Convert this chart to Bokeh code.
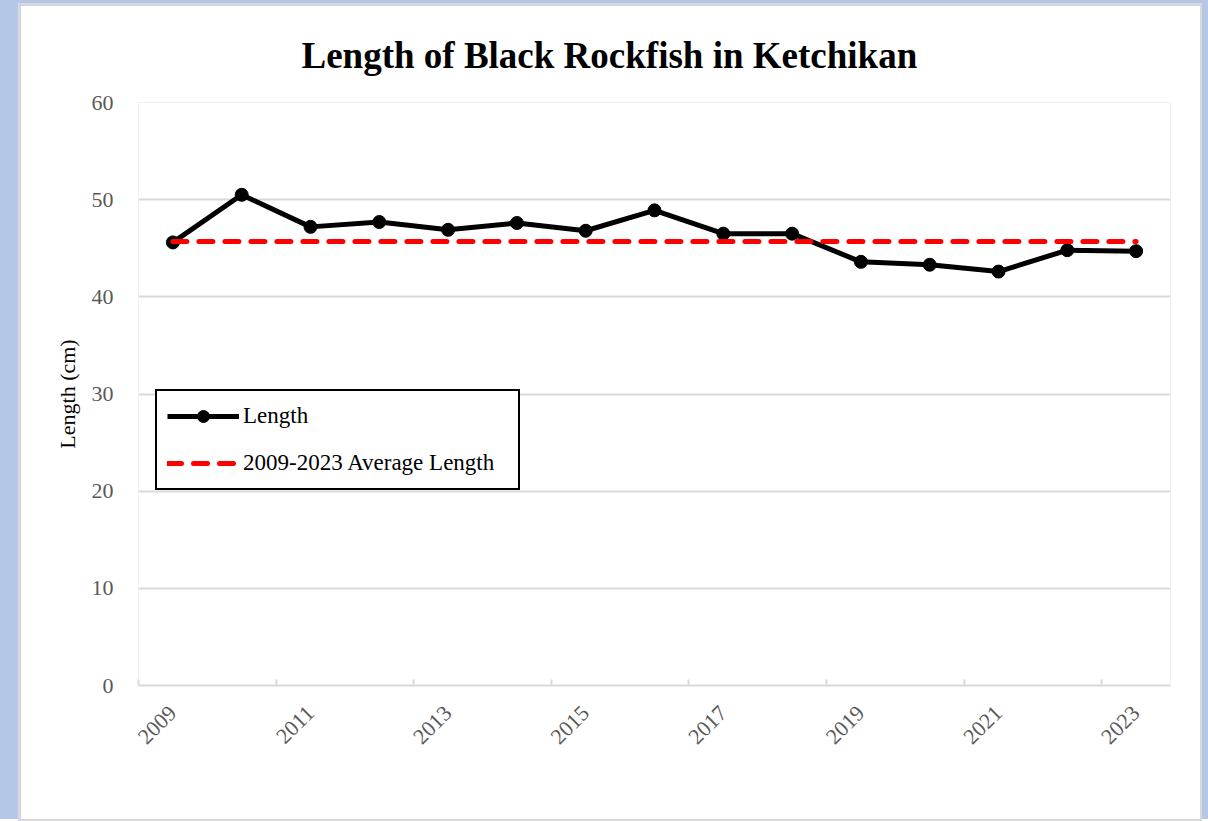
import math
from bokeh.plotting import figure
from bokeh.models import Range1d, FixedTicker, LinearAxis, Legend, LegendItem
from bokeh.layouts import column
from bokeh.embed import file_html
from bokeh.resources import INLINE

# ---- data ----
years = [2009, 2010, 2011, 2012, 2013, 2014, 2015, 2016, 2017, 2018, 2019, 2020, 2021, 2022, 2023]
lengths = [45.6, 50.5, 47.2, 47.7, 46.9, 47.6, 46.8, 48.9, 46.5, 46.5, 43.6, 43.3, 42.6, 44.8, 44.7]
average_length = 45.7
y_ticks = [0, 10, 20, 30, 40, 50, 60]
label_years = [2009, 2011, 2013, 2015, 2017, 2019, 2021, 2023]

FONT = "Liberation Serif"
GRID = "#d9d9d9"

idx = list(range(len(years)))
label_pos = [years.index(y) for y in label_years]

p = figure(width=1180, height=814, output_backend="svg", toolbar_location=None,
           x_range=Range1d(-0.5, len(years) - 0.5), y_range=Range1d(0, 60),
           x_axis_type=None, min_border_left=118, min_border_right=30,
           min_border_top=97, min_border_bottom=134, margin=(5, 8, 0, 20),
           background_fill_color="white", border_fill_color="white",
           outline_line_color=None)
p.styles = {"box-shadow": "0 0 0 2px #d9d9d9"}

# title
p.title.text = "Length of Black Rockfish in Ketchikan"
p.title.text_font = FONT
p.title.text_font_size = "37px"
p.title.text_font_style = "bold"
p.title.text_color = "black"
p.title.align = "left"
p.title.offset = 163
p.title.standoff = 53

# y axis
ya = p.yaxis[0]
ya.ticker = FixedTicker(ticks=y_ticks, minor_ticks=[])
ya.axis_line_color = None
ya.major_tick_line_color = None
ya.minor_tick_line_color = None
ya.major_label_text_font = FONT
ya.major_label_text_font_size = "22px"
ya.major_label_text_color = "#595959"
ya.major_label_standoff = 19
ya.axis_label = "Length (cm)"
ya.axis_label_text_font = FONT
ya.axis_label_text_font_size = "22px"
ya.axis_label_text_font_style = "normal"
ya.axis_label_text_color = "black"
ya.axis_label_standoff = 9

p.ygrid.ticker = FixedTicker(ticks=y_ticks, minor_ticks=[])
p.ygrid.grid_line_color = GRID
p.ygrid.grid_line_width = 2

# x axis: tick marks between categories (no labels)
tick_axis = LinearAxis(ticker=FixedTicker(ticks=[i - 0.5 for i in label_pos], minor_ticks=[]),
                       major_tick_in=6, major_tick_out=0,
                       axis_line_color=GRID, axis_line_width=2,
                       major_tick_line_color=GRID, major_tick_line_width=2,
                       minor_tick_line_color=None,
                       major_label_text_color=None, major_label_text_font_size="1px",
                       major_label_standoff=0)
# x axis: year labels at category centres
label_axis = LinearAxis(ticker=FixedTicker(ticks=label_pos, minor_ticks=[]),
                        major_label_overrides={i: str(years[i]) for i in label_pos},
                        axis_line_color=None, major_tick_line_color=None,
                        minor_tick_line_color=None,
                        major_label_orientation=math.pi / 4,
                        major_label_standoff=18,
                        major_label_text_font=FONT,
                        major_label_text_font_size="22px",
                        major_label_text_color="#595959")
p.add_layout(tick_axis, "below")
p.add_layout(label_axis, "below")

# series
r_line = p.line(idx, lengths, line_color="black", line_width=5, line_join="round")
r_pts = p.scatter(idx, lengths, size=13, fill_color="black", line_color="black")
r_avg = p.line(idx, [average_length] * len(idx), line_color="#ff0000", line_width=5,
               line_dash="14 12", line_cap="round")

legend = Legend(items=[LegendItem(label="Length", renderers=[r_line, r_pts]),
                       LegendItem(label="2009-2023 Average Length", renderers=[r_avg])],
                location=(17, 195), margin=0, padding=10, spacing=17,
                glyph_width=72, glyph_height=30, label_standoff=4, label_width=265,
                border_line_color="black", border_line_width=2, border_line_alpha=1,
                label_text_font=FONT, label_text_font_size="23px", label_text_color="black",
                background_fill_color="white", background_fill_alpha=1)
p.add_layout(legend)

layout = column(p, styles={"background-color": "#b4c7e7"})

open("out.html", "w").write(file_html(layout, INLINE))
